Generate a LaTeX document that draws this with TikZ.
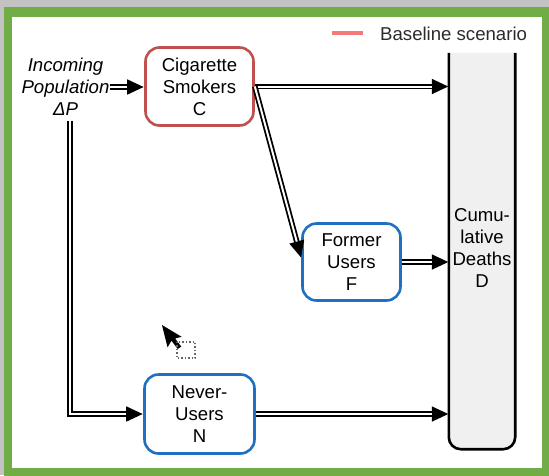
\documentclass[tikz,border=0pt]{standalone}
\usepackage{fontspec}
\setmainfont{Liberation Sans}
\usetikzlibrary{arrows.meta}
\definecolor{framegreen}{HTML}{70AD47}
\definecolor{outergray}{HTML}{C2C2C2}
\definecolor{smokered}{HTML}{C0504D}
\definecolor{userblue}{HTML}{1F6FC2}
\definecolor{stockfill}{HTML}{F0F0F0}
\definecolor{legendred}{HTML}{F47A7A}
\definecolor{legendtext}{HTML}{2B2B2B}
\begin{document}
\begin{tikzpicture}[x=1pt,y=-1pt,
  txt/.style={font=\fontsize{18.6}{22}\selectfont, align=center, inner sep=0pt},
  stockbox/.style={txt, draw, line width=2.6pt, rounded corners=14pt},
  smokerbox/.style={stockbox, draw=smokered},
  userbox/.style={stockbox, draw=userblue},
  % a double flow pipe: thick black stroke with a white core, ending in a solid tip
  flow/.style={draw=black, line width=5.6pt,
    -{Triangle[length=17pt,width=14pt]},
    postaction={draw=white, line width=2.0pt, -, shorten >=17pt}},
]
  % frame and background
  \useasboundingbox (0,0) rectangle (549,475);
  \clip (0,0) rectangle (549,475);
  \fill[outergray] (0,0) rectangle (549,475);
  \fill[framegreen] (4,7) rectangle (560,490);
  \fill[white] (12,17) rectangle (542,468);

  % stocks
  \node[smokerbox, minimum width=108pt, minimum height=78pt] (C) at (199.5,86.5)
    {Cigarette\\Smokers\\C};
  \node[userbox, minimum width=98pt, minimum height=77pt] (F) at (351.5,262)
    {Former\\Users\\F};
  \node[userbox, minimum width=110pt, minimum height=79pt] (N) at (199.5,414)
    {Never-\\Users\\N};

  % cumulative deaths: open-topped box
  \path node[minimum width=66pt, minimum height=396pt, inner sep=0pt] (D) at (482,251) {};
  \filldraw[fill=stockfill, draw=black, line width=2.6pt, rounded corners=12pt]
    (D.north west) -- (D.south west) -- (D.south east) -- (D.north east);
  \node[txt] (Dlabel) at (482,248) {Cumu-\\lative\\Deaths\\D};

  % inflow
  \node[txt, font=\fontsize{18.6}{22}\selectfont\itshape] (in) at (65.5,87)
    {Incoming\\Population\\ΔP};
  \coordinate (drop) at (70,121);
  \coordinate (bend) at (70,414);

  % flows
  \draw[flow] (in.east) -- (in.east -| C.west);
  \draw[flow] (C.east) -- (C.east -| D.west);
  \draw[flow] (C.east) -- ([yshift=4pt]F.west);
  \draw[flow] (F.east) -- (F.east -| D.west);
  \draw[flow] (drop) -- (bend) -- (N.west);
  \draw[flow] (N.east) -- (N.east -| D.west);

  % legend
  \coordinate (legA) at (332,33);
  \coordinate (legB) at (363,33);
  \draw[legendred, line width=4pt] (legA) -- (legB);
  \node[txt, anchor=west, text=legendtext] (legtext) at (380,34) {Baseline scenario};

  % mouse pointer and selection marker
  \begin{scope}[shift={(162,325)}, rotate=14, scale=1.35]
    \fill[black] (0,0) -- (0,17) -- (4,13) -- (7,20) -- (10,19) -- (7,12) -- (12,12) -- cycle;
  \end{scope}
  \draw[gray!80!black, dotted, line width=1.4pt] (177,342) rectangle (195,358);
\end{tikzpicture}
\end{document}
